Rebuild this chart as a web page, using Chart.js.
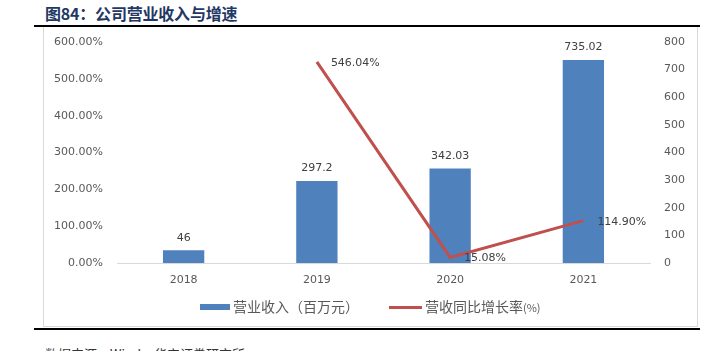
<!DOCTYPE html>
<html>
<head>
<meta charset="utf-8">
<script src="https://cdn.jsdelivr.net/npm/chart.js@4.4.1/dist/chart.umd.min.js"></script>
<style>
  body { margin: 0; width: 717px; height: 351px; overflow: hidden; background: #fff; position: relative; font-family: "Noto Sans CJK SC", sans-serif; }
  #title { position: absolute; left: 45px; top: 1px; font-size: 16px; font-weight: bold; color: #1f3864; white-space: nowrap; letter-spacing: -0.2px; }
  .rule { position: absolute; left: 34px; width: 666px; height: 2px; background: #000; }
  #box { position: absolute; left: 43px; top: 27px; width: 653px; height: 299px; border: 1px solid #d9d9d9; border-top: none; }
  #wrap { position: absolute; left: 43px; top: 27px; width: 654px; height: 300px; }
  #legend { position: absolute; top: 296px; left: 0; width: 717px; height: 20px; font-size: 14px; color: #595959; }
  #legend span { position: absolute; white-space: nowrap; }
  #source { position: absolute; left: 45px; top: 344px; font-size: 13px; color: #333; white-space: nowrap; }
</style>
</head>
<body>
<div id="title">图84：公司营业收入与增速</div>
<div class="rule" style="top:25px"></div>
<div id="box"></div>
<div id="wrap"><canvas id="chartjs1" width="654" height="300"></canvas></div>
<div id="legend">
  <span style="left:200px;top:8px;width:30px;height:6px;background:#4f81bd"></span>
  <span style="left:233px;top:0px">营业收入（百万元）</span>
  <span style="left:389px;top:10px;width:33px;height:3px;background:#c0504d"></span>
  <span style="left:425px;top:0px">营收同比增长率<span style="position:static;font-size:11px">(%)</span></span>
</div>
<div class="rule" style="top:328px"></div>
<div id="source">数据来源：Wind，华安证券研究所</div>

<script>
const years = ['2018', '2019', '2020', '2021'];
const revenue = [46, 297.2, 342.03, 735.02];
const growth = [null, 546.04, 15.08, 114.90];
const growthLabels = ['', '546.04%', '15.08%', '114.90%'];
const revenueLabels = ['46', '297.2', '342.03', '735.02'];

const ctx1 = document.getElementById("chartjs1").getContext("2d");

const labelFont = '11px "DejaVu Sans", sans-serif';

const valueLabels = {
    id: 'valueLabels',
    afterDatasetsDraw(chart) {
        const c = chart.ctx;
        c.save();
        c.font = labelFont;
        c.fillStyle = '#404040';

        const bars = chart.getDatasetMeta(1).data;
        c.textAlign = 'center';
        c.textBaseline = 'bottom';
        bars.forEach((bar, i) => {
            c.fillText(revenueLabels[i], bar.x, bar.y - 7);
        });

        const pts = chart.getDatasetMeta(0).data;
        c.textAlign = 'left';
        c.textBaseline = 'middle';
        pts.forEach((p, i) => {
            if (growth[i] === null) return;
            c.fillText(growthLabels[i], p.x + 14, p.y + 1);
        });
        c.restore();
    }
};

function fixY(w) {
    return function (scale) {
        scale.width = w;
        scale.paddingTop = 0;
        scale.paddingBottom = 0;
    };
}

const chart1 = new Chart(ctx1, {
    data: {
        labels: years,
        datasets: [{
            type: 'line',
            label: '营收同比增长率(%)',
            data: growth,
            yAxisID: 'y',
            borderColor: '#c0504d',
            borderWidth: 3,
            pointRadius: 0,
            fill: false,
            order: 0
        }, {
            type: 'bar',
            label: '营业收入（百万元）',
            data: revenue,
            yAxisID: 'y1',
            backgroundColor: '#4f81bd',
            categoryPercentage: 1,
            barPercentage: 0.31,
            order: 1
        }]
    },
    options: {
        responsive: false,
        devicePixelRatio: 1,
        animation: false,
        layout: { padding: { top: 15, left: 0, right: 0, bottom: 0 } },
        plugins: {
            legend: { display: false },
            tooltip: { enabled: false }
        },
        scales: {
            x: {
                grid: { display: false, drawTicks: false },
                border: { color: '#d9d9d9' },
                ticks: { color: '#595959', font: { family: 'DejaVu Sans', size: 11 }, padding: 11 },
                afterFit(scale) { scale.height = 64; }
            },
            y: {
                position: 'left',
                min: 0,
                max: 600,
                grid: { display: false, drawTicks: false },
                border: { display: false },
                ticks: {
                    stepSize: 100,
                    color: '#595959',
                    font: { family: 'DejaVu Sans', size: 11 },
                    padding: 14,
                    callback: v => v.toFixed(2) + '%'
                },
                afterFit: fixY(74)
            },
            y1: {
                position: 'right',
                min: 0,
                max: 800,
                grid: { display: false, drawTicks: false },
                border: { display: false },
                ticks: {
                    stepSize: 100,
                    color: '#595959',
                    font: { family: 'DejaVu Sans', size: 11 },
                    padding: 14
                },
                afterFit: fixY(47)
            }
        }
    },
    plugins: [valueLabels]
});
</script>
</body>
</html>
